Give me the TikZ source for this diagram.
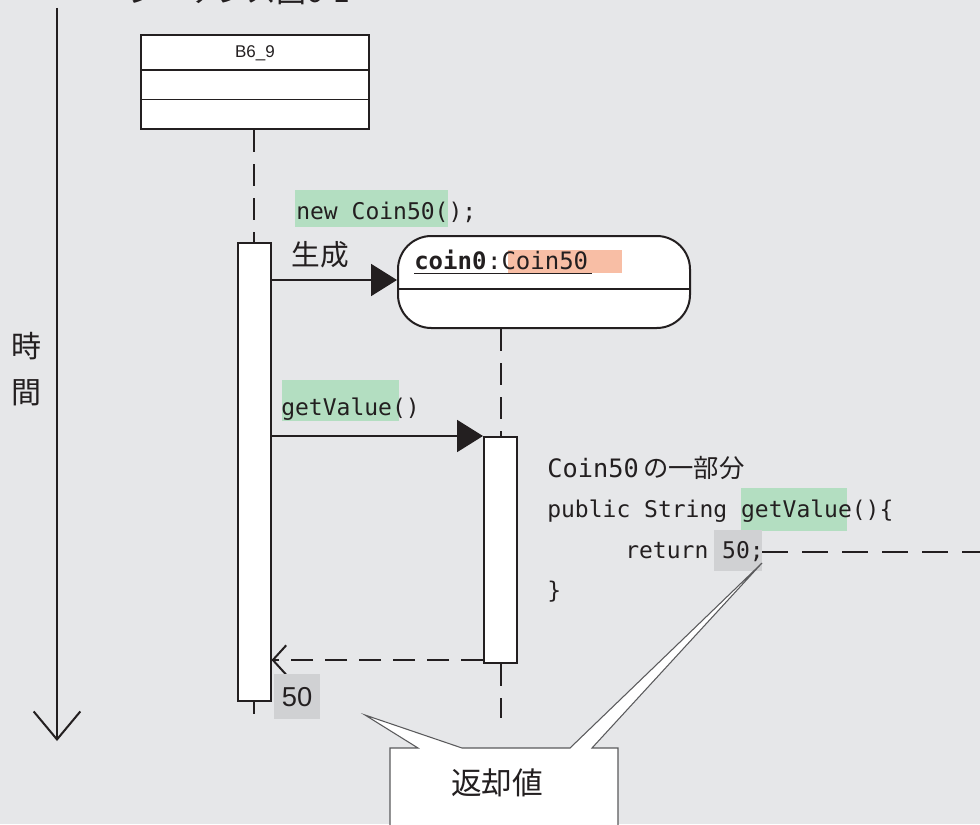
\documentclass[tikz,border=0pt]{standalone}
\usepackage{fontspec}
\setmainfont{Liberation Sans}
\newfontfamily\cjk{Noto Sans CJK JP}
\newfontfamily\mono{DejaVu Sans Mono}
\usetikzlibrary{arrows.meta,calc}
\definecolor{bg}{RGB}{230,231,233}
\definecolor{ink}{RGB}{35,31,32}
\definecolor{hlgreen}{RGB}{179,222,193}
\definecolor{hlsalmon}{RGB}{248,190,165}
\definecolor{hlgray}{RGB}{208,209,211}
\definecolor{callgray}{RGB}{90,90,92}
\begin{document}
\begin{tikzpicture}[x=0.75pt,y=-0.75pt,
  txt/.style={inner sep=0pt, text=ink},
  codetxt/.style={txt, anchor=base west, font=\mono\fontsize{17.25}{20}\selectfont},
  jp/.style={txt, font=\cjk\fontsize{21}{25}\selectfont},
  objbox/.style={draw=ink, fill=white, line width=1.5pt, inner sep=0pt},
  actbar/.style={draw=ink, fill=white, line width=1.5pt, inner sep=0pt, minimum width=24.75pt},
  lifeline/.style={draw=ink, line width=1.5pt, dash pattern=on 16.5pt off 9pt},
  msg/.style={draw=ink, line width=1.5pt, -{Triangle[length=19.5pt,width=24pt]}},
  retmsg/.style={draw=ink, line width=1.5pt, dash pattern=on 16.5pt off 9pt, -{Straight Barb[length=10pt,width=22pt,line width=1.5pt]}},
  timearrow/.style={draw=ink, line width=1.5pt, -{Straight Barb[length=21pt,width=35pt,line width=1.5pt]}},
  hl/.style={draw=none}
]
\useasboundingbox (0,0) rectangle (980,824);
\clip (0,0) rectangle (980,824);
\fill[bg] (0,0) rectangle (980,824);

% clipped title
\node[txt, anchor=base west, font=\cjk\fontsize{22.5}{27}\selectfont] (title) at (128,3) {シーケンス図6-1};

% time axis
\coordinate (tstart) at (57,8);
\coordinate (tend) at (57,741);
\draw[timearrow] (tstart) -- (tend);
\node[jp, font=\cjk\fontsize{22.5}{27}\selectfont] (t1) at (27,346) {時};
\node[jp, font=\cjk\fontsize{22.5}{27}\selectfont] (t2) at (27,393) {間};

% B6_9 object
\node[objbox, minimum width=171pt, minimum height=70.5pt] (b69) at (255,82) {};
\draw[ink, line width=1.5pt] (141,70) -- (369,70);
\draw[ink, line width=1.2pt] (141,99.5) -- (369,99.5);
\node[txt, font=\fontsize{12.75}{15}\selectfont] (b69name) at (255,53) {B6\_9};

% activation bars
\node[actbar, minimum height=343.5pt] (act1) at (254,472) {};
\node[actbar, minimum height=169.5pt] (act2) at (500.5,550) {};

% coin0 object
\node[objbox, rounded corners=25pt, minimum width=219pt, minimum height=69pt] (coin) at (544,282) {};
\draw[ink, line width=1.5pt] (399,288.5) -- (689,288.5);
\fill[hlsalmon] (508,250) rectangle (622,273);
\node[codetxt, font=\mono\bfseries\fontsize{18}{21}\selectfont] (cname) at (414,269) {coin0};
\node[codetxt, font=\mono\fontsize{18}{21}\selectfont, anchor=base west] (ctype) at (cname.base east) {:Coin50};
\draw[ink, line width=1pt] (414,273.5) -- (592,273.5);

% lifelines
\draw[lifeline] (act1.north |- b69.south) -- (act1.north);
\coordinate (l1end) at ($(act1.south)+(0,12)$);
\draw[lifeline] (act1.south) -- (l1end);
\draw[lifeline] (act2.north |- coin.south) -- (act2.north);
\coordinate (l2end) at ($(act2.south)+(0,54)$);
\draw[lifeline] (act2.south) -- (l2end);

% message: new
\fill[hlgreen] (295,190) rectangle (448,227);
\node[codetxt] (newmsg) at (296,219) {new Coin50();};
\node[jp, font=\cjk\fontsize{21.5}{25}\selectfont] (gen) at (320,255) {生成};
\draw[msg] (act1.east |- 0,280) -- (coin.west |- 0,280);

% message: getValue
\fill[hlgreen] (282,380) rectangle (399,421);
\node[codetxt] (gvmsg) at (281,415) {getValue()};
\draw[msg] (act1.east |- act2.north west) -- (act2.north west);

% return
\draw[retmsg] ([yshift=3pt]act2.south west) -- ([yshift=3pt]act2.south west -| act1.east);
\fill[hlgray] (274,674) rectangle (320,719);
\node[txt, font=\fontsize{20.5}{24}\selectfont] (fifty) at (297,697) {50};

% code fragment
\node[txt, anchor=base west, font=\mono\fontsize{19}{23}\selectfont] (cpart) at (547,477) {Coin50\,{\cjk の一部分}};
\fill[hlgreen] (741,488) rectangle (847,531);
\node[codetxt] (sig) at (547,517) {public String getValue()\{};
\fill[hlgray] (714,530) rectangle (762,571);
\node[codetxt] (retline) at (625,558) {return 50;};
\node[codetxt] (close) at (547,598) {\}};
\coordinate (retend) at (762,552);
\coordinate (offright) at (985,552);
\draw[draw=ink, line width=1.5pt, dash pattern=on 19.5pt off 10.5pt] (retend) -- (offright);

% callout
\path[fill=white, draw=callgray, line width=0.8pt]
  (390,830) -- (390,748) -- (418,748) -- (365,715) -- (462,748) -- (570,748)
  -- (762,563) -- (592,748) -- (618,748) -- (618,830) -- cycle;
\node[jp, font=\cjk\fontsize{23}{27}\selectfont] (callout) at (497,783) {返却値};
\end{tikzpicture}
\end{document}
